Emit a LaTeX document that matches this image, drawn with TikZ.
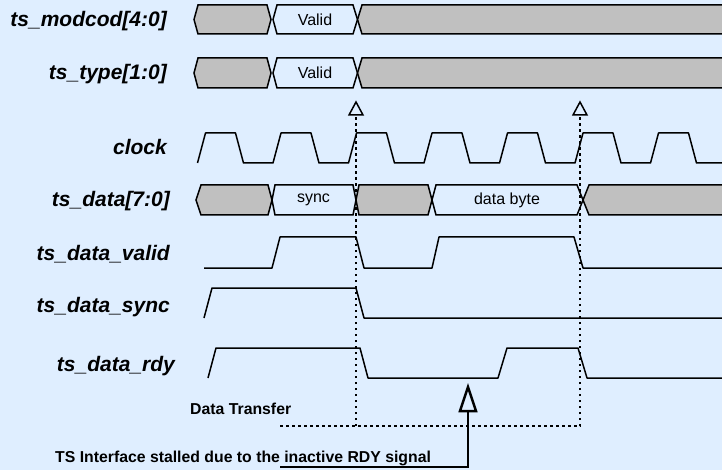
\documentclass[tikz,border=0pt]{standalone}
\usepackage{fontspec}
\setmainfont{Liberation Sans}
\usetikzlibrary{arrows.meta}
\definecolor{bgc}{RGB}{223,238,255}
\definecolor{busgray}{RGB}{192,192,192}
\newcommand\busseg[7]{%
  \filldraw[bus,fill=#7] (#1,{(#3+#4)/2}) -- (#1+#5,#3) -- (#2-#6,#3) -- (#2,{(#3+#4)/2}) -- (#2-#6,#4) -- (#1+#5,#4) -- cycle;}
\newcommand\openhead[5]{% tip x, tip y, half width, length, line width
  \filldraw[fill=bgc, draw=black, line width=#5, line join=miter] (#1,#2) -- (#1+#3,#2+#4) -- (#1-#3,#2+#4) -- cycle;}
\begin{document}
\begin{tikzpicture}[x=1pt,y=-1pt,
  sig/.style={line width=1.5pt, line join=round},
  bus/.style={line width=1.5pt, line join=miter, draw=black},
  lab/.style={font=\fontsize{21}{25}\selectfont\bfseries\itshape, inner sep=0pt, anchor=base east},
  bt/.style={font=\fontsize{16}{19}\selectfont, inner sep=0pt},
  note/.style={font=\fontsize{15.8}{18}\selectfont\bfseries, inner sep=0pt, anchor=base west},
  dots/.style={line width=2.5pt, line cap=butt, dash pattern=on 2.5pt off 3.5pt}]
\useasboundingbox (0,0) rectangle (722,470);
\fill[bgc] (0,0) rectangle (722,470);
\clip (0,0) rectangle (722,470);

% labels
\node[lab] (lmod) at (167,27) {ts\_modcod[4:0]};
\node[lab] (ltype) at (167,80) {ts\_type[1:0]};
\node[lab] (lclk) at (167,155) {clock};
\node[lab] (ldata) at (170,207) {ts\_data[7:0]};
\node[lab] (lvalid) at (170,260) {ts\_data\_valid};
\node[lab] (lsync) at (170,312) {ts\_data\_sync};
\node[lab] (lrdy) at (175,371) {ts\_data\_rdy};

% ts_modcod
\busseg{194}{271}{5}{34}{4}{4}{busgray}
\busseg{273}{357.5}{5}{34}{4}{4.5}{bgc}
\busseg{357.5}{740}{5}{34}{4.5}{0}{busgray}
\node[bt] (v1) at (315,19.5) {Valid};
% ts_type
\busseg{194}{271}{58}{88}{4}{4}{busgray}
\busseg{273}{357.5}{58}{88}{4}{4.5}{bgc}
\busseg{357.5}{740}{58}{88}{4.5}{0}{busgray}
\node[bt] (v2) at (315,73) {Valid};

% clock
\draw[sig] (197.5,163) \foreach \k in {0,...,6}{ -- ++(8,-30) -- ++(30,0) -- ++(8,30) -- ++(29.5,0)};

% ts_data
\busseg{196}{272}{185}{215}{5}{4}{busgray}
\busseg{272}{356}{185}{215}{3}{3}{bgc}
\busseg{356}{432}{185}{215}{3}{4}{busgray}
\busseg{432}{583}{185}{215}{4}{6}{bgc}
\busseg{583}{740}{185}{215}{6}{0}{busgray}
\node[bt] (tsync) at (313.5,200) {sync};
\node[bt] (tbyte) at (507,200) {data byte};

% single-bit signals
\draw[sig] (204,268) -- (272,268) -- (280,237) -- (356,237) -- (364,268) -- (432,268) -- (439,237) -- (574,237) -- (583,268) -- (730,268);
\draw[sig] (204,318) -- (212,288) -- (356,288) -- (364,318) -- (730,318);
\draw[sig] (208,378) -- (216,348) -- (360,348) -- (368,378) -- (498,378) -- (507,348) -- (578,348) -- (587,378) -- (730,378);

% dotted markers
\coordinate (d1t) at (356,117);
\coordinate (d1b) at (356,426);
\coordinate (d2t) at (580,117);
\coordinate (d2b) at (580,426);
\coordinate (hl) at (280,426);
\draw[dots] (d1b) -- (d1t);
\draw[dots] (hl) -- (d2b) -- (d2t);
\openhead{356}{102}{7}{13}{1.5pt}
\openhead{580}{102}{7}{13}{1.5pt}

% stall arrow
\coordinate (stA) at (280,467);
\coordinate (stB) at (468,467);
\coordinate (stT) at (468,411);
\draw[line width=2.8pt, line join=miter] (stA) -- (stB) -- (stT);
\openhead{468}{387}{8}{24}{2.5pt}

% notes
\node[note] (ndt) at (190,414) {Data Transfer};
\node[note] (nts) at (55,462) {TS Interface stalled due to the inactive RDY signal};
\end{tikzpicture}
\end{document}
